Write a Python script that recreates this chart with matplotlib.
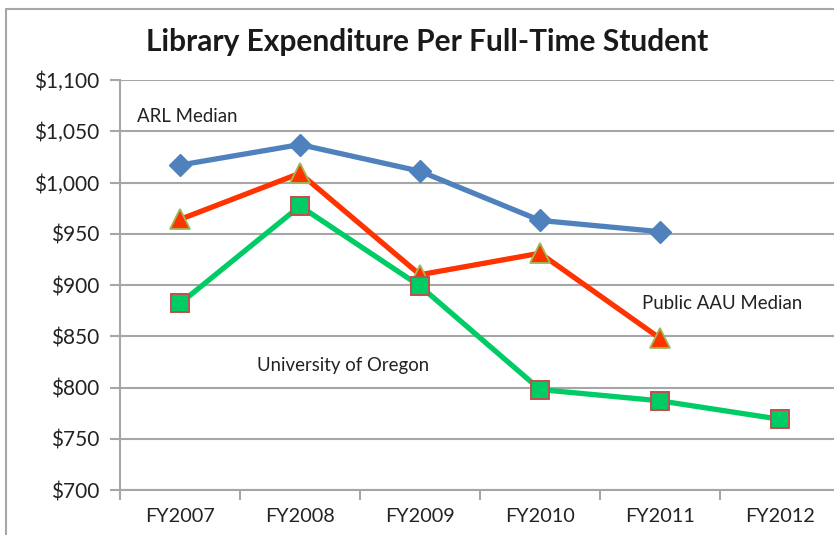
import matplotlib
matplotlib.use("Agg")
import matplotlib.pyplot as plt
from matplotlib.patches import Rectangle
from matplotlib.ticker import FuncFormatter, FixedLocator

years = ["FY2007", "FY2008", "FY2009", "FY2010", "FY2011", "FY2012"]
arl_median = [1017, 1037, 1011, 963, 952]
public_aau_median = [964, 1009, 910, 931, 848]
univ_oregon = [882, 977, 899, 798, 787, 769]

plt.rcParams['font.family'] = ['Lato', 'DejaVu Sans']

W, H = 834, 535
fig = plt.figure(figsize=(W/100, H/100), dpi=100)
ax = fig.add_axes([120/W, 1-490/H, 720/W, 410/H])

grid_c = '#A6A6A6'
x_arl = list(range(len(arl_median)))
x_aau = list(range(len(public_aau_median)))
x_uo = list(range(len(univ_oregon)))

ax.plot(x_arl, arl_median, color='#4F81BD', lw=3.8, marker='D', ms=11,
        markerfacecolor='#4F81BD', markeredgecolor='#4F81BD', zorder=3)
ax.plot(x_aau, public_aau_median, color='#FF3300', lw=3.8, marker='^', ms=14,
        markerfacecolor='#FF3300', markeredgecolor='#9BBB59', markeredgewidth=1.3, zorder=4)
ax.plot(x_uo, univ_oregon, color='#00CC66', lw=3.8, marker='s', ms=12.5,
        markerfacecolor='#00CC66', markeredgecolor='#C0504D', markeredgewidth=1.4, zorder=5)

ax.set_xlim(-0.5, 5.5)
ax.set_ylim(700, 1100)
ax.set_yticks(range(700, 1101, 50))
ax.yaxis.set_major_formatter(FuncFormatter(lambda v, p: f"${int(v):,}"))
ax.xaxis.set_major_locator(FixedLocator([i - 0.5 for i in range(7)]))
ax.xaxis.set_minor_locator(FixedLocator(list(range(6))))
ax.set_xticklabels([])
ax.set_xticklabels(years, minor=True)
ax.tick_params(axis='x', which='major', length=7, width=1.5, color=grid_c)
ax.tick_params(axis='x', which='minor', length=0, pad=13, labelsize=14.3, labelcolor='#222222')
ax.tick_params(axis='y', length=7, width=1.5, color=grid_c, pad=8, labelsize=15, labelcolor='#222222')

ax.grid(axis='y', color=grid_c, lw=1.5)
ax.set_axisbelow(True)
for s in ['top', 'right']:
    ax.spines[s].set_visible(False)
for s in ['left', 'bottom']:
    ax.spines[s].set_color(grid_c)
    ax.spines[s].set_linewidth(1.5)

ax.text(-0.36, 1064, "ARL Median", fontsize=13.4, color='#222222', va='center', ha='left')
ax.text(0.64, 821, "University of Oregon", fontsize=13.4, color='#222222', va='center', ha='left')
ax.text(3.85, 882, "Public AAU Median", fontsize=13.4, color='#222222', va='center', ha='left')

fig.text(427/W, 1-42/H, "Library Expenditure Per Full-Time Student", fontsize=21.5,
         fontweight='bold', ha='center', va='center', color='#1a1a1a')

fig.patches.append(Rectangle((6/W, -0.1), 1.2, 1-9/H+0.1, transform=fig.transFigure,
                             fill=False, edgecolor='#A6A6A6', lw=1.5))

fig.savefig("out.png", dpi=100)
